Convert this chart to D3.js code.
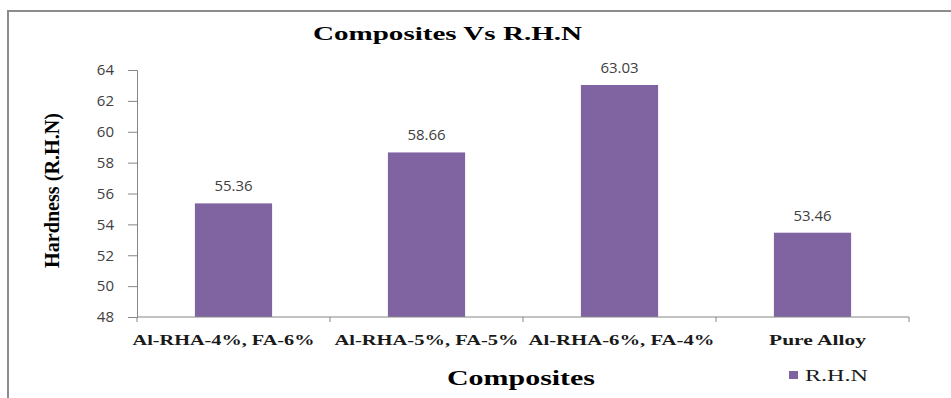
<!DOCTYPE html>
<html>
<head>
<meta charset="utf-8">
<script src="https://cdn.jsdelivr.net/npm/d3@7"></script>
<style>
  html, body { margin: 0; padding: 0; background: #fff; }
  svg { display: block; }
</style>
</head>
<body>
<svg id="chart" width="951" height="398"></svg>
<script>
// Rockwell hardness (R.H.N) of each composite
const categories = ["Al-RHA-4%, FA-6%", "Al-RHA-5%, FA-5%", "Al-RHA-6%, FA-4%", "Pure Alloy"];
const hardness = [55.36, 58.66, 63.03, 53.46];
const yTicks = [48, 50, 52, 54, 56, 58, 60, 62, 64];
const seriesName = "R.H.N";

const svg = d3.select("#chart");
const barColor = "#8064A2";
const axisColor = "#868686";
const serif = "'Liberation Serif', 'Times New Roman', serif";
const sans = "'Open Sans', 'Noto Sans', sans-serif";

// outer chart frame (runs past the right and bottom edges)
svg.append("rect")
  .attr("x", 8).attr("y", 11)
  .attr("width", 1000).attr("height", 500)
  .attr("fill", "none")
  .attr("stroke", "#8c8c8c")
  .attr("stroke-width", 2);

const plot = { left: 137, right: 909, top: 70, bottom: 317 };

const x = d3.scaleBand()
  .domain(categories)
  .range([plot.left, plot.right])
  .paddingInner(0.6)
  .paddingOuter(0.3);

const y = d3.scaleLinear()
  .domain([48, 64])
  .range([plot.bottom, plot.top]);

// bars
svg.append("g")
  .selectAll("rect")
  .data(categories)
  .join("rect")
  .attr("x", d => x(d))
  .attr("y", (d, i) => y(hardness[i]))
  .attr("width", x.bandwidth())
  .attr("height", (d, i) => y(48) - y(hardness[i]))
  .attr("fill", barColor);

// value labels
svg.append("g")
  .selectAll("text")
  .data(categories)
  .join("text")
  .attr("x", d => x(d) + x.bandwidth() / 2)
  .attr("y", (d, i) => y(hardness[i]) - 12)
  .attr("text-anchor", "middle")
  .attr("font-family", sans)
  .attr("font-size", 15)
  .attr("fill", "#404040")
  .text((d, i) => hardness[i].toFixed(2));

// y axis
const yAxis = svg.append("g")
  .attr("transform", `translate(${plot.left},0)`)
  .call(d3.axisLeft(y).tickValues(yTicks).tickSize(9).tickPadding(14).tickFormat(d3.format("d")));
yAxis.select(".domain").attr("stroke", axisColor);
yAxis.selectAll(".tick line").attr("stroke", axisColor);
yAxis.selectAll(".tick text")
  .attr("font-family", sans)
  .attr("font-size", 15)
  .attr("fill", "#404040");

// x axis: ticks on the category boundaries
const boundaries = d3.range(categories.length + 1).map(i => plot.left + i * (plot.right - plot.left) / categories.length);
const xAxisG = svg.append("g");
xAxisG.append("line")
  .attr("x1", plot.left).attr("x2", plot.right)
  .attr("y1", plot.bottom).attr("y2", plot.bottom)
  .attr("stroke", axisColor);
xAxisG.selectAll("line.tk")
  .data(boundaries)
  .join("line")
  .attr("class", "tk")
  .attr("x1", d => d).attr("x2", d => d)
  .attr("y1", plot.bottom).attr("y2", plot.bottom + 5)
  .attr("stroke", axisColor);

// category labels
const labelWidths = [182, 184, 186, 97];
const labelShift = [-10, 0, 2, 5];
xAxisG.selectAll("text")
  .data(categories)
  .join("text")
  .attr("x", (d, i) => x(d) + x.bandwidth() / 2 + labelShift[i] - labelWidths[i] / 2)
  .attr("y", 345)
  .attr("font-family", serif)
  .attr("font-weight", "bold")
  .attr("font-size", 15)
  .attr("fill", "#1a1a1a")
  .attr("textLength", (d, i) => labelWidths[i])
  .attr("lengthAdjust", "spacingAndGlyphs")
  .text(d => d);

// title
svg.append("text")
  .attr("x", 313).attr("y", 40)
  .attr("font-family", serif)
  .attr("font-weight", "bold")
  .attr("font-size", 19)
  .attr("textLength", 269)
  .attr("lengthAdjust", "spacingAndGlyphs")
  .text("Composites Vs R.H.N");

// x axis title
svg.append("text")
  .attr("x", 447).attr("y", 385)
  .attr("font-family", serif)
  .attr("font-weight", "bold")
  .attr("font-size", 20)
  .attr("textLength", 148)
  .attr("lengthAdjust", "spacingAndGlyphs")
  .text("Composites");

// y axis title
svg.append("text")
  .attr("transform", "translate(59,268) rotate(-90)")
  .attr("font-family", serif)
  .attr("font-weight", "bold")
  .attr("font-size", 22)
  .attr("textLength", 155)
  .attr("lengthAdjust", "spacingAndGlyphs")
  .text("Hardness (R.H.N)");

// legend
const legend = svg.append("g");
legend.append("rect")
  .attr("x", 789).attr("y", 371)
  .attr("width", 9).attr("height", 8)
  .attr("fill", barColor);
legend.append("text")
  .attr("x", 805).attr("y", 381)
  .attr("font-family", serif)
  .attr("font-size", 16)
  .attr("fill", "#1a1a1a")
  .attr("textLength", 63)
  .attr("lengthAdjust", "spacingAndGlyphs")
  .text(seriesName);
</script>
</body>
</html>
